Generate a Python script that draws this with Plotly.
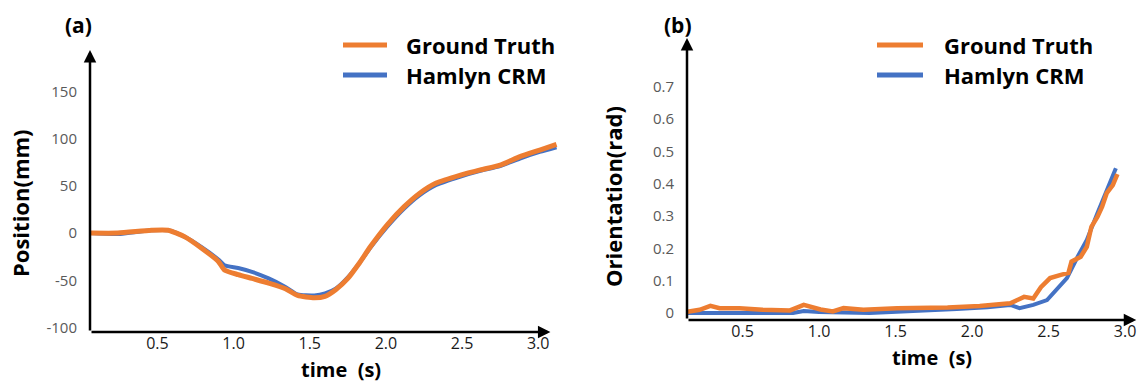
import plotly.graph_objects as go

# ---------------- data ----------------
SERIES_NAMES = ["Ground Truth", "Hamlyn CRM"]

# Panel (a): position (mm) vs time (s)
A_T_GT = [0.06, 0.24, 0.46, 0.57, 0.68, 0.79, 0.90, 0.94, 1.03, 1.12, 1.23, 1.34, 1.42,
          1.53, 1.60, 1.67, 1.75, 1.82, 1.90, 2.01, 2.12, 2.22, 2.33, 2.49, 2.62, 2.75,
          2.88, 3.01, 3.12]
A_GT = [0, 0, 3, 3, -4, -16, -30, -39, -44, -48, -53, -59, -66,
        -68.5, -67, -60, -48, -33, -14, 9, 28, 42, 53, 61.5, 67, 72,
        81, 88, 94]
A_T_CRM = A_T_GT
A_CRM = [0, -1, 3, 3, -4, -15, -28, -34, -37, -41, -48, -57, -65,
         -66, -64, -59, -47, -33, -15, 7, 26, 40, 51, 60, 66, 71,
         79, 86, 91]

# Panel (b): orientation (rad) vs time (s)
B_T_GT = [0.14, 0.22, 0.29, 0.35, 0.48, 0.63, 0.81, 0.90, 1.01, 1.09, 1.16, 1.29, 1.51,
          1.84, 2.05, 2.25, 2.34, 2.40, 2.45, 2.51, 2.58, 2.63, 2.65, 2.71, 2.75, 2.78,
          2.82, 2.85, 2.88, 2.92, 2.95]
B_GT = [0.004, 0.010, 0.022, 0.015, 0.015, 0.010, 0.008, 0.025, 0.011, 0.005, 0.015, 0.010, 0.015,
        0.017, 0.022, 0.030, 0.050, 0.045, 0.080, 0.108, 0.118, 0.124, 0.159, 0.174, 0.205, 0.267,
        0.298, 0.329, 0.371, 0.396, 0.430]
B_T_CRM = [0.14, 0.50, 0.83, 0.90, 1.00, 1.33, 1.60, 1.90, 2.10, 2.25, 2.31, 2.40, 2.49,
           2.55, 2.62, 2.69, 2.75, 2.82, 2.88, 2.94]
B_CRM = [0.0, 0.0, 0.0, 0.006, 0.003, 0.0, 0.005, 0.012, 0.018, 0.025, 0.015, 0.025, 0.04,
         0.07, 0.108, 0.174, 0.226, 0.31, 0.38, 0.448]

X_TICKS = [0.5, 1.0, 1.5, 2.0, 2.5, 3.0]
X_TICKTEXT = ["0.5", "1.0", "1.5", "2.0", "2.5", "3.0"]
A_Y_TICKS = [150, 100, 50, 0, -50, -100]
A_Y_TICKTEXT = ["150", "100", "50", "0", "-50", "-100"]
B_Y_TICKS = [0.7, 0.6, 0.5, 0.4, 0.3, 0.2, 0.1, 0]
B_Y_TICKTEXT = ["0.7", "0.6", "0.5", "0.4", "0.3", "0.2", "0.1", "0"]

PANEL_LABELS = ["(a)", "(b)"]
Y_TITLES = ["Position(mm)", "Orientation(rad)"]
X_TITLE = "time\u00a0\u00a0(s)"

# ---------------- styles ----------------
ORANGE = "#ED7D31"
BLUE = "#4472C4"
FONT = "Open Sans"
W, H = 1138, 382


def pxx(x):
    return x / W


def pxy(y):
    return 1 - y / H


fig = go.Figure()

# panel (a)
fig.add_trace(go.Scatter(x=A_T_CRM, y=A_CRM, mode="lines", name=SERIES_NAMES[1],
                         line=dict(color=BLUE, width=4, shape="spline", smoothing=0.6),
                         xaxis="x", yaxis="y", showlegend=False))
fig.add_trace(go.Scatter(x=A_T_GT, y=A_GT, mode="lines", name=SERIES_NAMES[0],
                         line=dict(color=ORANGE, width=5, shape="spline", smoothing=0.6),
                         xaxis="x", yaxis="y", showlegend=False))
# panel (b)
fig.add_trace(go.Scatter(x=B_T_CRM, y=B_CRM, mode="lines", name=SERIES_NAMES[1],
                         line=dict(color=BLUE, width=4),
                         xaxis="x2", yaxis="y2", showlegend=False))
fig.add_trace(go.Scatter(x=B_T_GT, y=B_GT, mode="lines", name=SERIES_NAMES[0],
                         line=dict(color=ORANGE, width=4.5),
                         xaxis="x2", yaxis="y2", showlegend=False))

A_XR = [0.057, 3.143]
A_YR = [-104.8, 194.0]
B_XR = [0.137, 3.078]
B_YR = [-0.0217, 0.8514]

common_x = dict(tickmode="array", tickvals=X_TICKS, ticktext=X_TICKTEXT,
                showgrid=False, zeroline=False, showline=False, ticks="",
                tickfont=dict(family=FONT, size=16, color="#1a1a1a"))
fig.update_layout(
    width=W, height=H, margin=dict(l=0, r=0, t=0, b=0, autoexpand=False),
    paper_bgcolor="white", plot_bgcolor="white", showlegend=False,
    xaxis=dict(domain=[pxx(90), pxx(560)], range=A_XR, anchor="y",
               ticklabelstandoff=0, **common_x),
    yaxis=dict(domain=[pxy(332), pxy(50)], range=A_YR, anchor="x",
               tickmode="array", tickvals=A_Y_TICKS, ticktext=A_Y_TICKTEXT,
               showgrid=False, zeroline=False, showline=False, ticks="",
               ticklabelstandoff=12,
               tickfont=dict(family=FONT, size=15, color="#595959")),
    xaxis2=dict(domain=[pxx(687), pxx(1137)], range=B_XR, anchor="y2",
                ticklabelstandoff=0, **common_x),
    yaxis2=dict(domain=[pxy(320), pxy(38)], range=B_YR, anchor="x2",
                tickmode="array", tickvals=B_Y_TICKS, ticktext=B_Y_TICKTEXT,
                showgrid=False, zeroline=False, showline=False, ticks="",
                ticklabelstandoff=12,
                tickfont=dict(family=FONT, size=15, color="#595959")),
)

ann = []
# axis arrows
arrow = dict(text="", showarrow=True, arrowhead=2, arrowsize=1, arrowwidth=2.5,
             arrowcolor="black", standoff=0, startstandoff=0)
ann.append(dict(x=A_XR[0], y=A_YR[1], ax=A_XR[0], ay=A_YR[0], xref="x", yref="y",
                axref="x", ayref="y", **arrow))
ann.append(dict(x=3.08, y=A_YR[0], ax=A_XR[0], ay=A_YR[0], xref="x", yref="y",
                axref="x", ayref="y", **arrow))
ann.append(dict(x=B_XR[0], y=B_YR[1], ax=B_XR[0], ay=B_YR[0], xref="x2", yref="y2",
                axref="x2", ayref="y2", **arrow))
ann.append(dict(x=B_XR[1] - 0.005, y=B_YR[0], ax=B_XR[0], ay=B_YR[0], xref="x2", yref="y2",
                axref="x2", ayref="y2", **arrow))

bold = dict(family=FONT, color="black")
# panel labels
ann.append(dict(x=pxx(78), y=pxy(25), xref="paper", yref="paper", text="<b>" + PANEL_LABELS[0] + "</b>",
                showarrow=False, font=dict(size=21, **bold), xanchor="center", yanchor="middle"))
ann.append(dict(x=pxx(678), y=pxy(25), xref="paper", yref="paper", text="<b>" + PANEL_LABELS[1] + "</b>",
                showarrow=False, font=dict(size=21, **bold), xanchor="center", yanchor="middle"))
# y titles
ann.append(dict(x=pxx(20), y=pxy(203), xref="paper", yref="paper", text="<b>" + Y_TITLES[0] + "</b>",
                showarrow=False, textangle=-90, font=dict(size=22, **bold),
                xanchor="center", yanchor="middle"))
ann.append(dict(x=pxx(613), y=pxy(197), xref="paper", yref="paper", text="<b>" + Y_TITLES[1] + "</b>",
                showarrow=False, textangle=-90, font=dict(size=22, **bold),
                xanchor="center", yanchor="middle"))
# x titles
ann.append(dict(x=pxx(341), y=pxy(369), xref="paper", yref="paper", text="<b>" + X_TITLE + "</b>",
                showarrow=False, font=dict(size=20, **bold), xanchor="center", yanchor="middle"))
ann.append(dict(x=pxx(932), y=pxy(357), xref="paper", yref="paper", text="<b>" + X_TITLE + "</b>",
                showarrow=False, font=dict(size=20, **bold), xanchor="center", yanchor="middle"))

# legends (drawn manually, one per panel)
shapes = []
for (lx0, lx1, tx) in [(343, 387, 404), (877, 923, 942)]:
    for name, col, yy in [(SERIES_NAMES[0], ORANGE, 45), (SERIES_NAMES[1], BLUE, 75)]:
        shapes.append(dict(type="line", xref="paper", yref="paper",
                           x0=pxx(lx0), x1=pxx(lx1), y0=pxy(yy), y1=pxy(yy),
                           line=dict(color=col, width=5)))
        ann.append(dict(x=pxx(tx), y=pxy(yy), xref="paper", yref="paper",
                        text="<b>" + name + "</b>", showarrow=False,
                        font=dict(size=22, **bold), xanchor="left", yanchor="middle"))

fig.update_layout(annotations=ann, shapes=shapes)
fig.write_html("out.html", config={"displayModeBar": False},
               post_script="document.body.style.margin='0';document.body.style.overflow='hidden';")
